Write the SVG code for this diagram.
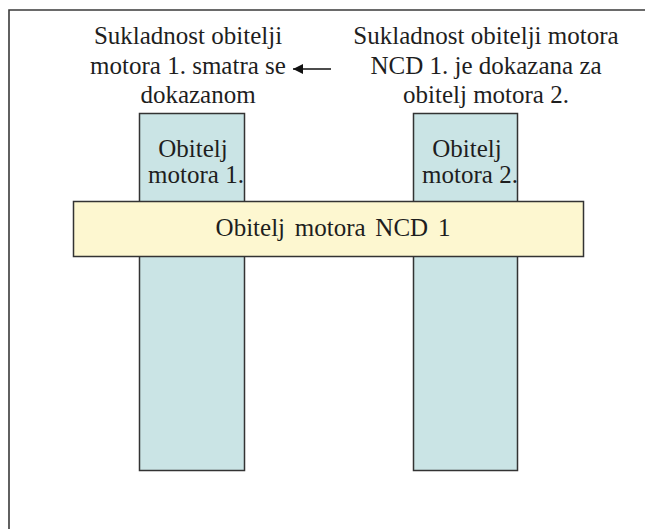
<svg xmlns="http://www.w3.org/2000/svg" width="645" height="529" viewBox="0 0 645 529">
  <style>
    .frame { fill: none; stroke: #3a3a3a; stroke-width: 1.6; }
    .family { fill: #cae4e5; stroke: #333; stroke-width: 1.5; }
    .ncd { fill: #fdf7d0; stroke: #333; stroke-width: 1.5; }
    .lbl { font-family: "Liberation Serif", "Times New Roman", serif; font-size: 25px; fill: #1e1e1e; text-anchor: middle; }
    .conn { stroke: #111; stroke-width: 1.6; fill: none; }
  </style>
  <defs>
    <marker id="head" viewBox="0 0 10 10" refX="10" refY="5" markerWidth="10" markerHeight="10" markerUnits="userSpaceOnUse" orient="auto">
      <path d="M0,0 L10,5 L0,10 Z" fill="#111"/>
    </marker>
  </defs>

  <rect width="645" height="529" fill="#ffffff"/>

  <!-- outer frame: top and left edges only -->
  <path class="frame" d="M9,529 V10 H645"/>

  <!-- engine family 1 column -->
  <g id="family1">
    <rect class="family" x="139.5" y="113.5" width="105" height="357"/>
    <text class="lbl" x="193" y="157">Obitelj</text>
    <text class="lbl" x="196" y="183">motora 1.</text>
  </g>

  <!-- engine family 2 column -->
  <g id="family2">
    <rect class="family" x="413.5" y="113.5" width="104" height="357"/>
    <text class="lbl" x="467" y="157">Obitelj</text>
    <text class="lbl" x="470" y="183">motora 2.</text>
  </g>

  <!-- NCD engine family bar across both columns -->
  <g id="ncd1">
    <rect class="ncd" x="73.5" y="201.5" width="510" height="55"/>
    <text class="lbl" x="333" y="236" word-spacing="3.5">Obitelj motora NCD 1</text>
  </g>

  <!-- note for family 1 -->
  <g id="note1">
    <text class="lbl" x="188" y="44">Sukladnost obitelji</text>
    <text class="lbl" x="188" y="74">motora 1. smatra se</text>
    <text class="lbl" x="198" y="103">dokazanom</text>
  </g>

  <!-- note for family 2 -->
  <g id="note2">
    <text class="lbl" x="486" y="44">Sukladnost obitelji motora</text>
    <text class="lbl" x="486" y="74">NCD 1. je dokazana za</text>
    <text class="lbl" x="486" y="103">obitelj motora 2.</text>
  </g>

  <g id="connectors">
    <line class="conn" x1="331" y1="69" x2="293" y2="69" marker-end="url(#head)"/>
  </g>
</svg>
